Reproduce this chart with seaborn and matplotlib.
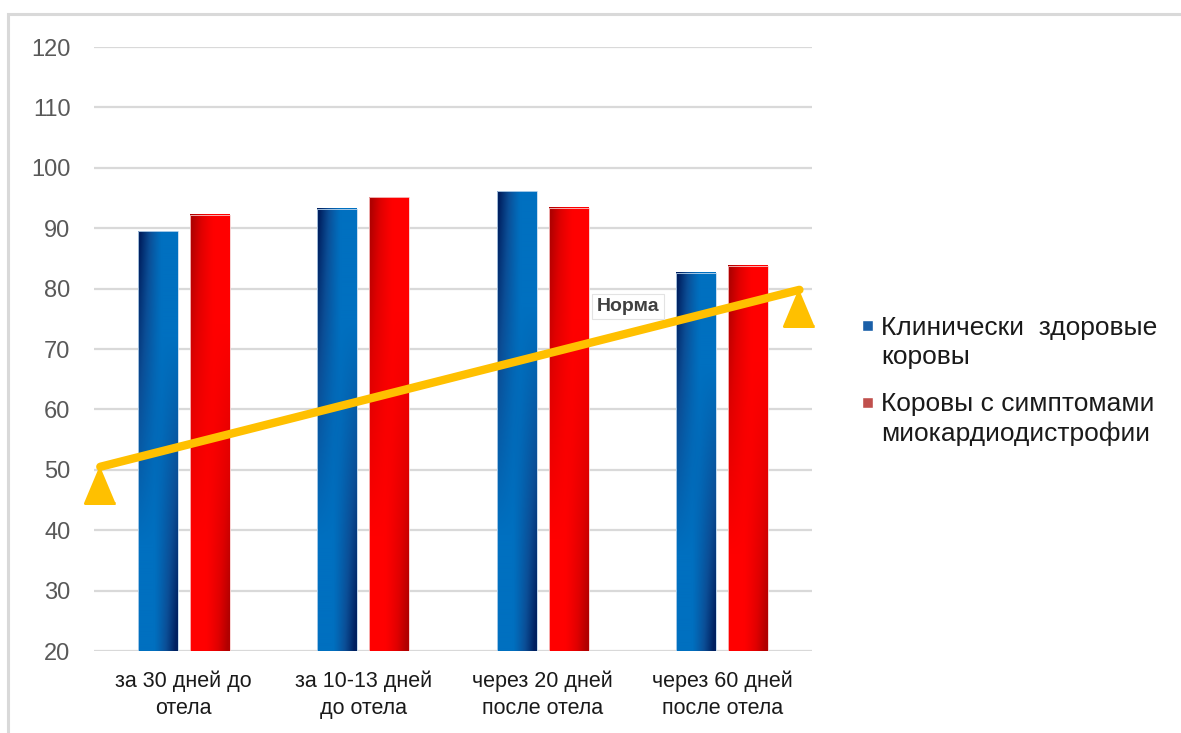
import numpy as np
import pandas as pd
import matplotlib
matplotlib.use("Agg")
import matplotlib.pyplot as plt
import seaborn as sns
from matplotlib.patches import Rectangle
from matplotlib.legend_handler import HandlerPatch
from matplotlib.colors import LinearSegmentedColormap
from matplotlib.markers import MarkerStyle

# ---------------- data ----------------
categories = ["за 30 дней до\nотела", "за 10-13 дней\nдо отела",
              "через 20 дней\nпосле отела", "через 60 дней\nпосле отела"]
series_names = ["Клинически  здоровые\nкоровы", "Коровы с симптомами\nмиокардиодистрофии"]
healthy = [89.5, 93.2, 96.1, 82.6]
sick = [92.2, 95.1, 93.4, 83.8]
norm_values = [50.5, 79.8]
norm_label = "Норма"
y_ticks = [20, 30, 40, 50, 60, 70, 80, 90, 100, 110, 120]

# ---------------- style ----------------
sns.set_theme(style="white")
plt.rcParams["font.family"] = ["Liberation Sans", "DejaVu Sans"]

W, H = 1181, 733
fig = plt.figure(figsize=(W / 100, H / 100), dpi=100)
ax = fig.add_axes([94 / W, 1 - 651 / H, (812 - 94) / W, (651 - 47) / H])

df = pd.DataFrame({
    "period": categories * 2,
    "value": healthy + sick,
    "group": [series_names[0]] * len(categories) + [series_names[1]] * len(categories),
})
legend_colors = ["#1A5FA8", "#C0504D"]
sns.barplot(data=df, x="period", y="value", hue="group", palette=legend_colors,
            width=0.58, gap=0.24, errorbar=None, saturation=1, ax=ax, legend=True)

y0, y1 = y_ticks[0], y_ticks[-1]

# gradient fill for bars (dark edge top-left, light centre, dark edge bottom-right)
cmaps = [LinearSegmentedColormap.from_list("b", ["#002060", "#0B4E96", "#0070C0"]),
         LinearSegmentedColormap.from_list("r", ["#B00000", "#E00000", "#FF0000"])]
n = 200
u = np.linspace(0, 1, n)[None, :]
t = np.linspace(1, 0, n)[:, None]          # 1 at top row, 0 at bottom row
a_left = np.clip((t - 0.25) / 0.75, 0, 1)
a_right = np.clip((0.75 - t) / 0.75, 0, 1)
dark = a_left * np.clip(1 - u / 0.6, 0, 1) ** 1.2 + a_right * np.clip((u - 0.4) / 0.6, 0, 1) ** 1.2
grad = 1 - np.clip(dark * 1.15, 0, 1)
edge_cols = ["#BDD7EE", "#F8CBCB"]
for cont, cmap, ec in zip(ax.containers, cmaps, edge_cols):
    for bar in cont:
        x0 = bar.get_x()
        w = bar.get_width()
        h = bar.get_height()
        ax.imshow(grad, cmap=cmap, extent=(x0, x0 + w, y0, h), origin="upper",
                  aspect="auto", interpolation="bilinear", zorder=3)
        bar.set_facecolor("none")
        bar.set_edgecolor(ec)
        bar.set_linewidth(0.6)
        bar.set_zorder(3.5)

ax.set_xlim(-0.5, len(categories) - 0.5)
ax.set_ylim(y0, y1)
ax.set_yticks(y_ticks)
ax.set_axisbelow(True)
ax.yaxis.grid(True, color="#D9D9D9", lw=1.6)
ax.xaxis.grid(False)
for sp in ax.spines.values():
    sp.set_visible(False)
ax.set_xlabel("")
ax.set_ylabel("")
ax.tick_params(axis="y", length=0, pad=17, labelsize=17, labelcolor="#595959")
ax.tick_params(axis="x", length=0, pad=14, labelsize=15.5, labelcolor="#1A1A1A")
for lab in ax.get_xticklabels():
    lab.set_linespacing(1.4)

# norm line
xl = ax.get_xlim()
norm_x = [xl[0] + 0.035, xl[1] - 0.07]
ax.plot(norm_x, norm_values, color="#FFC000", lw=6, solid_capstyle="round", zorder=5)
tri = MarkerStyle([(0, 0), (-0.42, -1), (0.42, -1)], joinstyle="round")
ax.plot(norm_x, norm_values, ls="none", marker=tri, ms=52, color="#FFC000",
        mec="#FFC000", mew=2, zorder=5, clip_on=False)
ax.text(2.30, 77.0, norm_label, ha="left", va="center", fontsize=14, fontweight="bold",
        color="#404040", zorder=6,
        bbox=dict(boxstyle="square,pad=0.22", fc="none", ec="#E3E3E3", lw=0.8))

# legend
def square(legend, orig_handle, xdescent, ydescent, width, height, fontsize):
    size = 0.42 * fontsize
    cy = -ydescent + height / 2 + 0.64 * fontsize
    return Rectangle((-xdescent, cy - size / 2), size, size)

handles, labels = ax.get_legend_handles_labels()
leg = ax.legend(handles, labels, loc="upper left", bbox_to_anchor=(862 / W, 1 - 316 / H),
                bbox_transform=fig.transFigure, frameon=False, fontsize=19,
                handlelength=0.42, handleheight=0.42, handletextpad=0.3, labelspacing=0.9,
                borderpad=0, borderaxespad=0,
                handler_map={Rectangle: HandlerPatch(patch_func=square)})
for txt in leg.get_texts():
    txt.set_linespacing(1.25)
    txt.set_color("#1A1A1A")

# outer border
fig.add_artist(Rectangle((8 / W, -0.05), 1.0, 1 - 14 / H + 0.05, transform=fig.transFigure,
                         fill=False, ec="#D9D9D9", lw=2.2, clip_on=False))

fig.savefig("out.png", dpi=100)
